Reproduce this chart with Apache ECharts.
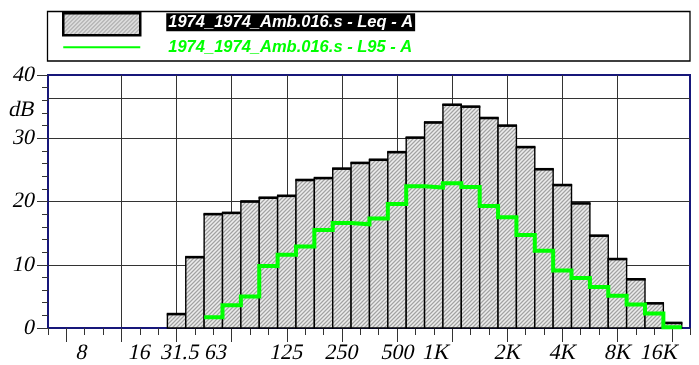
<!DOCTYPE html>
<html>
<head>
<meta charset="utf-8">
<title>1974_1974_Amb.016.s</title>
<script src="https://cdn.jsdelivr.net/npm/echarts@6/dist/echarts.min.js"></script>
<style>
  html, body { margin: 0; padding: 0; background: #fff; }
  #chart { width: 699px; height: 365px; }
</style>
</head>
<body>
<div id="chart"></div>
<script>
// Third-octave band centre frequencies (Hz)
const FREQS = ['6.3','8','10','12.5','16','20','25','31.5','40','50','63','80','100','125','160','200',
  '250','315','400','500','630','800','1K','1.25K','1.6K','2K','2.5K','3.15K','4K','5K','6.3K','8K',
  '10K','12.5K','16K'];

// Leq - A per band (dB)
const LEQ = [null, null, null, null, null, null, null,
  2.2, 11.2, 18.0, 18.2, 20.0, 20.6, 20.9, 23.4, 23.7, 25.2, 26.1, 26.6, 27.8, 30.1,
  32.5, 35.3, 35.0, 33.2, 32.0, 28.6, 25.1, 22.6, 19.7, 14.6, 10.9, 7.7, 3.9, 0.8];

// L95 - A per band (dB)
const L95 = [null, null, null, null, null, null, null, null, null,
  1.7, 3.6, 5.0, 9.8, 11.6, 12.9, 15.5, 16.6, 16.4, 17.3, 19.6, 22.4,
  22.2, 22.9, 22.3, 19.3, 17.5, 14.7, 12.2, 9.1, 7.9, 6.5, 5.1, 3.7, 2.3, 0.1];

// Octave labels shown under the frequency axis
const X_LABELS = ['8','16','31.5','63','125','250','500','1K','2K','4K','8K','16K'];
const Y_TICKS = [0, 10, 20, 30, 40];
const Y_UNIT = 'dB';

const NAME_LEQ = '1974_1974_Amb.016.s - Leq - A';
const NAME_L95 = '1974_1974_Amb.016.s - L95 - A';

// label placement tweaks (in bands) so the octave labels do not collide
const LABEL_SHIFT = [0.85, 1.0, 0.2, -0.85, 0, 0, 0.05, -0.85, 0.05, 0.05, 0.05, -0.7];
const UNIT_AT = 34.5;     // height of the unit label on the level axis
const EXTRA_GRID = 36.4;  // additional reference line

const NAVY = '#17177a';
const GRID_C = '#333333';
const GREEN = '#00ff00';
const SLANT = -0.21;      // shear for the slanted serif tick labels
const TICK_FONT = '22px "Liberation Serif", "Times New Roman", serif';

// grey hatched fill used for the Leq bars
function makeHatch() {
  const c = document.createElement('canvas');
  c.width = 8; c.height = 8;
  const g = c.getContext('2d');
  g.fillStyle = '#cecece';
  g.fillRect(0, 0, 8, 8);
  g.lineCap = 'square';
  g.strokeStyle = '#a2a2a2';
  g.lineWidth = 1.0;
  for (let o = -8; o <= 16; o += 4) {
    g.beginPath(); g.moveTo(o, 8); g.lineTo(o + 8, 0); g.stroke();
  }
  g.strokeStyle = '#f4f4f4';
  g.lineWidth = 0.8;
  for (let o = -6; o <= 18; o += 4) {
    g.beginPath(); g.moveTo(o, 8); g.lineTo(o + 8, 0); g.stroke();
  }
  return c;
}
const hatch = { image: makeHatch(), repeat: 'repeat' };

const octaveIdx = X_LABELS.map(l => FREQS.indexOf(l));
const labelPos = octaveIdx.map((k, i) => k + LABEL_SHIFT[i]);

const leqData = [];
LEQ.forEach((v, k) => { if (v != null) leqData.push([k, v]); });

// L95 drawn as a staircase spanning each band's full width
const l95Data = [];
L95.forEach((v, k) => { if (v != null) { l95Data.push([k - 0.5, v]); l95Data.push([k + 0.5, v]); } });

// level-axis label texts and their values
const yLabelText = Y_TICKS.map(String).concat([Y_UNIT]);
const yLabelVal = Y_TICKS.concat([UNIT_AT]);

const sansBoldItalic = {
  fontFamily: 'Liberation Sans',
  fontStyle: 'italic',
  fontWeight: 'bold',
  fontSize: 16.5
};

function slantedText(text, x, y, align) {
  return {
    type: 'text',
    x: x, y: y,
    skewX: SLANT,
    style: {
      text: text, fill: '#000', font: TICK_FONT,
      align: align, verticalAlign: 'middle',
      textAlign: align, textVerticalAlign: 'middle'
    }
  };
}

const chart = echarts.init(document.getElementById('chart'), null, { renderer: 'canvas' });

chart.setOption({
  animation: false,
  backgroundColor: '#fff',
  graphic: [{
    type: 'rect',
    shape: { x: 47.5, y: 11.5, width: 642.5, height: 49.5 },
    style: { fill: 'none', stroke: '#000', lineWidth: 1.3 },
    z: 0
  }],
  legend: {
    orient: 'vertical',
    left: 62,
    top: 12,
    padding: 0,
    itemWidth: 77,
    itemHeight: 22,
    itemGap: 2,
    selectedMode: false,
    data: [
      { name: NAME_LEQ, icon: 'rect', itemStyle: { color: hatch, borderColor: '#000', borderWidth: 2.5 } },
      { name: NAME_L95, itemStyle: { color: 'rgba(0,0,0,0)', borderColor: 'rgba(0,0,0,0)', borderWidth: 0 } }
    ],
    formatter: name => name === NAME_LEQ ? '{g|}{a|' + name + '}' : '{h|}{b|' + name + '}',
    textStyle: {
      ...sansBoldItalic,
      rich: {
        g: { width: 21, height: 22 },
        h: { width: 21 },
        a: {
          ...sansBoldItalic, color: '#fff', backgroundColor: '#000',
          padding: [1, 2, 0, 2], lineHeight: 17, verticalAlign: 'top'
        },
        b: { ...sansBoldItalic, color: GREEN, padding: [0, 0, 0, 2] }
      }
    }
  },
  grid: {
    left: 48, right: 9, top: 75, bottom: 37,
    show: true, borderColor: NAVY, borderWidth: 2, backgroundColor: 'transparent'
  },
  xAxis: [{
    type: 'value',
    min: 0, max: 34.95,
    position: 'bottom',
    axisLine: { show: true, onZero: false, lineStyle: { color: NAVY, width: 2 } },
    axisTick: { show: true, customValues: octaveIdx, length: 14, lineStyle: { color: GRID_C, width: 1 } },
    axisLabel: { show: false },
    splitLine: { show: true, showMinLine: false, showMaxLine: false, lineStyle: { color: GRID_C, width: 1 } }
  }, {
    // one small tick per band
    type: 'value',
    min: 0, max: 34.95, interval: 1,
    position: 'bottom',
    axisLine: { show: false },
    axisTick: { show: true, length: 7, lineStyle: { color: GRID_C, width: 1 } },
    axisLabel: { show: false },
    splitLine: { show: false }
  }],
  yAxis: {
    type: 'value',
    min: 0, max: 40, interval: 10,
    axisLine: { show: true, onZero: false, lineStyle: { color: NAVY, width: 2 } },
    axisTick: { show: true, length: 11, lineStyle: { color: GRID_C, width: 1 } },
    minorTick: { show: true, splitNumber: 5, length: 6, lineStyle: { color: GRID_C, width: 1 } },
    axisLabel: { show: false },
    splitLine: { show: true, showMinLine: false, showMaxLine: false, lineStyle: { color: GRID_C, width: 1 } }
  },
  series: [{
    name: NAME_LEQ,
    type: 'custom',
    xAxisIndex: 0,
    data: leqData,
    encode: { x: 0, y: 1 },
    itemStyle: { color: hatch },
    z: 2,
    renderItem: (params, api) => {
      const k = api.value(0), v = api.value(1);
      const pTop = api.coord([k - 0.5, v]);
      const pBot = api.coord([k + 0.5, 0]);
      const x0 = pTop[0], x1 = pBot[0], y0 = pTop[1], y1 = pBot[1];
      return {
        type: 'group',
        children: [{
          type: 'rect',
          shape: { x: x0, y: y0, width: x1 - x0, height: y1 - y0 },
          style: { fill: hatch, stroke: '#000', lineWidth: 1.4 }
        }, {
          type: 'line',
          shape: { x1: x0 - 0.6, y1: y0, x2: x1 + 0.6, y2: y0 },
          style: { stroke: '#000', lineWidth: 2.6 }
        }]
      };
    }
  }, {
    name: NAME_L95,
    type: 'line',
    xAxisIndex: 0,
    data: l95Data,
    symbol: 'none',
    z: 3,
    itemStyle: { color: GREEN },
    lineStyle: { color: GREEN, width: 4, cap: 'butt', join: 'miter' },
    markLine: {
      silent: true,
      symbol: 'none',
      label: { show: false },
      lineStyle: { color: GRID_C, width: 1, type: 'solid' },
      data: [{ yAxis: EXTRA_GRID }]
    }
  }, {
    // octave labels under the frequency axis
    type: 'custom',
    xAxisIndex: 0,
    silent: true,
    clip: false,
    z: 5,
    data: labelPos.map((p, i) => [p, 0, i]),
    encode: { x: 0, y: 1 },
    renderItem: (params, api) => {
      const p = api.coord([api.value(0), 0]);
      return slantedText(X_LABELS[api.value(2)], p[0], p[1] + 25.5, 'center');
    }
  }, {
    // level labels beside the dB axis
    type: 'custom',
    xAxisIndex: 0,
    silent: true,
    clip: false,
    z: 5,
    data: yLabelVal.map((v, i) => [0, v, i]),
    encode: { x: 0, y: 1 },
    renderItem: (params, api) => {
      const p = api.coord([0, api.value(1)]);
      return slantedText(yLabelText[api.value(2)], p[0] - 13, p[1], 'right');
    }
  }]
});
</script>
</body>
</html>
